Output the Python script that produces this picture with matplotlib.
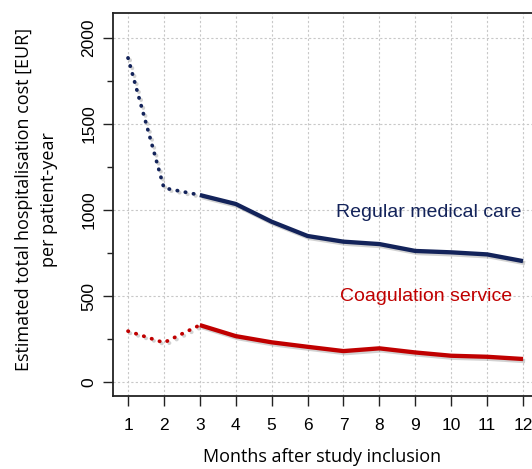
import matplotlib
matplotlib.use("Agg")
import matplotlib.pyplot as plt
import matplotlib.patheffects as pe
import numpy as np

months = [1, 2, 3, 4, 5, 6, 7, 8, 9, 10, 11, 12]
regular = [1884, 1128, 1087, 1035, 932, 849, 816, 802, 762, 754, 742, 703]
coag = [296, 229, 331, 267, 231, 205, 180, 196, 172, 153, 147, 134]

navy = "#13235a"
red = "#c00000"

fig = plt.figure(figsize=(5.32, 4.69), dpi=100)
ax = fig.add_axes([113/532, 1-396/469, 1-113/532, (396-13)/469])

shadow = [pe.SimpleLineShadow(offset=(1.5, -1.5), shadow_color="gray", alpha=0.35), pe.Normal()]

for vals, col in [(regular, navy), (coag, red)]:
    # first three months dotted, rest solid
    ax.plot(months[:3], vals[:3], color=col, lw=2.7, linestyle=(0, (0.1, 2.1)),
            dash_capstyle="round", path_effects=shadow, zorder=3)
    ax.plot(months[2:], vals[2:], color=col, lw=3.1, solid_capstyle="butt",
            path_effects=shadow, zorder=3)

ax.text(9.37, 983, "Regular medical care", color=navy, fontsize=14,
        family="Liberation Sans", ha="center", va="center")
ax.text(9.31, 500, "Coagulation service", color=red, fontsize=14,
        family="Liberation Sans", ha="center", va="center")

ax.set_xlim(0.582, 12.25)
ax.set_ylim(-81, 2145)
ax.set_xticks(months)
ax.set_yticks([0, 500, 1000, 1500, 2000])
ax.set_yticks(np.arange(250, 2000, 500), minor=True)
ax.grid(True, color="#c8c8c8", linestyle=(0, (2, 2)), lw=0.8)
ax.set_axisbelow(True)

for lab in ax.get_xticklabels() + ax.get_yticklabels():
    lab.set_family("Liberation Sans")
    lab.set_fontsize(12.5)
for lab in ax.get_yticklabels():
    lab.set_rotation(90)
    lab.set_va("center")

ax.tick_params(axis="x", length=7, width=1, pad=9, color="#222222")
ax.tick_params(axis="y", which="major", length=7, width=1, pad=5, color="#222222")
ax.tick_params(axis="y", which="minor", length=4, width=1, color="#222222")

ax.spines["right"].set_visible(False)
for s in ["left", "top", "bottom"]:
    ax.spines[s].set_linewidth(1.3)
    ax.spines[s].set_color("#222222")

ax.set_xlabel("Months after study inclusion", fontsize=13, family="Open Sans", labelpad=11)
ax.set_ylabel("Estimated total hospitalisation cost [EUR]\nper patient-year",
              fontsize=13, family="Open Sans", linespacing=1.5)
ax.yaxis.set_label_coords(-0.132, 0.512)

fig.savefig("out.png", dpi=100)
